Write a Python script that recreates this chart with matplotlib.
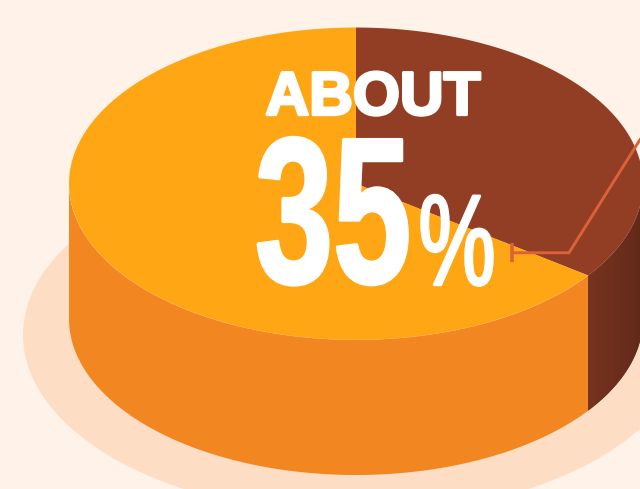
import numpy as np
import matplotlib
matplotlib.use('Agg')
import matplotlib.pyplot as plt
from matplotlib import patheffects
from matplotlib.colors import LinearSegmentedColormap
from matplotlib.patches import Ellipse
from matplotlib.transforms import Affine2D

# pie shares, going clockwise from 12 o'clock
shares = [35, 65]
share_colors = ['#923E25', '#FFA614']

headline = 'ABOUT'
big_number = '35'
percent_sign = '%'

# leader line from the brown slice
leader_x = [512, 569, 640]
leader_y = [253, 253, 140]
leader_tick_x = [512, 512]
leader_tick_y = [243, 262]

BG = '#FFF2E8'
SHADOW = '#FDDDC4'
WALL_ORANGE = '#F28722'
LINE_COLOR = '#DB6236'

# disc geometry, in pixels
CX, CY = 356, 184
RX, RY = 287, 156
DEPTH = 135


def rim_points(start_deg, end_deg, n=300, y_off=0):
    # angles are clockwise from 12 o'clock, y axis points down
    a = np.radians(np.linspace(start_deg, end_deg, n))
    return CX + RX * np.sin(a), CY + y_off - RY * np.cos(a)


class SqueezeX(patheffects.AbstractPathEffect):
    # fake condensed type: scale text horizontally around x0
    def __init__(self, x0, sx, grow=0):
        super().__init__()
        self.x0 = x0
        self.sx = sx
        self.grow = grow

    def draw_path(self, renderer, gc, tpath, affine, rgbFace=None):
        m = affine + Affine2D().translate(-self.x0, 0).scale(self.sx, 1).translate(self.x0, 0)
        gc0 = renderer.new_gc()
        gc0.copy_properties(gc)
        if self.grow:
            gc0.set_linewidth(self.grow)
            gc0.set_foreground(rgbFace)
        renderer.draw_path(gc0, tpath, m, rgbFace)
        gc0.restore()


fig = plt.figure(figsize=(6.40, 4.895), dpi=100, facecolor=BG)
ax = fig.add_axes([0, 0, 1, 1])
ax.set_xlim(0, 640)
ax.set_ylim(489, 0)
ax.axis('off')

# soft shadow under the disc
ax.add_patch(Ellipse((356, 335), 666, 360, facecolor=SHADOW, edgecolor='none', zorder=1))

split = shares[0] / sum(shares) * 360

# side wall, orange part
tx, ty = rim_points(split, 270)
bx, by = rim_points(270, split, y_off=DEPTH)
ax.fill(np.r_[tx, bx], np.r_[ty, by], color=WALL_ORANGE, lw=0, zorder=2)

# side wall, brown part with a horizontal gradient
tx, ty = rim_points(90, split)
bx, by = rim_points(split, 90, y_off=DEPTH)
wall = ax.fill(np.r_[tx, bx], np.r_[ty, by], color='#6E2F1D', lw=0, zorder=2)[0]
cmap = LinearSegmentedColormap.from_list('wall', ['#77331F', '#632A19'])
im = ax.imshow(np.linspace(0, 1, 24)[None, :], cmap=cmap, aspect='auto', interpolation='nearest',
               extent=[tx[-1], CX + RX, 489, 0], zorder=3)
im.set_clip_path(wall)
ax.set_xlim(0, 640)
ax.set_ylim(489, 0)

# top face
start = 0
for share, col in zip(shares, share_colors):
    end = start + share / sum(shares) * 360
    x, y = rim_points(start, end)
    ax.fill(np.r_[CX, x], np.r_[CY, y], color=col, lw=0, zorder=4)
    start = end

# faint light edge around the top face
x, y = rim_points(90, 270)
ax.plot(x, y, color='white', lw=0.5, alpha=0.1, zorder=5)

ax.plot(leader_x, leader_y, color=LINE_COLOR, lw=2.1, solid_joinstyle='miter', zorder=6)
ax.plot(leader_tick_x, leader_tick_y, color=LINE_COLOR, lw=2.6, solid_capstyle='butt', zorder=6)

t = ax.text(373, 115, headline, family='Liberation Sans', weight='bold', fontsize=44,
            color='white', ha='center', va='baseline', zorder=7)
t.set_path_effects([SqueezeX(373, 0.99, grow=2.2)])
t = ax.text(333, 283, big_number, family='Liberation Sans', weight='bold',
            fontsize=150, color='white', ha='center', va='baseline', zorder=7)
t.set_path_effects([SqueezeX(333, 0.675, grow=2.2)])
t = ax.text(457, 285, percent_sign, family='Liberation Sans', weight='normal',
            fontsize=93, color='white', ha='center', va='baseline', zorder=7)
t.set_path_effects([SqueezeX(457, 0.67, grow=2.0)])

fig.savefig('out.png', dpi=100, facecolor=BG)
plt.close(fig)
